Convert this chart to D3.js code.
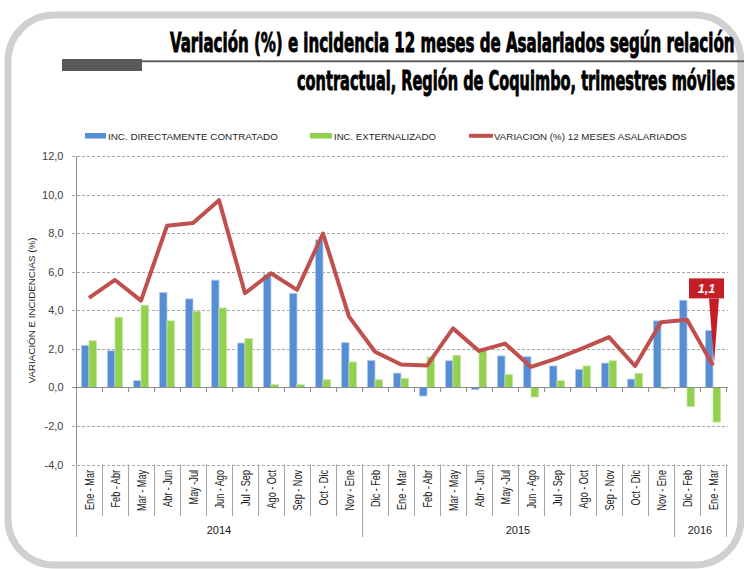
<!DOCTYPE html>
<html><head><meta charset="utf-8">
<script src="https://cdn.jsdelivr.net/npm/d3@7"></script>
<style>body{margin:0;background:#fff} svg{display:block}</style>
</head><body>
<svg id="c" width="744" height="569"></svg>
<script>
const categories = ["Ene - Mar","Feb - Abr","Mar - May","Abr - Jun","May -Jul","Jun - Ago","Jul - Sep","Ago - Oct","Sep - Nov","Oct - Dic","Nov - Ene","Dic - Feb","Ene - Mar","Feb - Abr","Mar - May","Abr - Jun","May -Jul","Jun - Ago","Jul - Sep","Ago - Oct","Sep - Nov","Oct - Dic","Nov - Ene","Dic - Feb","Ene - Mar"];
const yearLabels = ["2014","2015","2016"];
const yearCounts = [11,12,2];
const directos = [2.18,1.90,0.35,4.92,4.59,5.56,2.30,5.87,4.88,7.65,2.32,1.40,0.74,-0.45,1.38,-0.12,1.63,1.59,1.11,0.94,1.26,0.43,3.45,4.52,2.96];
const externos = [2.42,3.64,4.26,3.45,3.95,4.12,2.53,0.14,0.14,0.40,1.32,0.40,0.47,1.58,1.66,1.98,0.66,-0.50,0.35,1.11,1.38,0.73,-0.07,-0.99,-1.80];
const variacion = [4.64,5.57,4.50,8.38,8.52,9.71,4.88,5.92,5.06,7.98,3.67,1.85,1.19,1.13,3.06,1.89,2.27,1.06,1.50,2.04,2.61,1.11,3.38,3.51,1.14];
const yTicks = [-4,-2,0,2,4,6,8,10,12];
const seriesNames = ["INC. DIRECTAMENTE CONTRATADO","INC. EXTERNALIZADO","VARIACION (%) 12 MESES ASALARIADOS"];
const titleLines = ["Variación (%) e incidencia 12 meses de Asalariados según relación","contractual, Región de Coquimbo, trimestres móviles"];
const yTitle = "VARIACIÓN E INCIDENCIAS (%)";
const calloutText = "1,1";

const svg = d3.select("#c");
const L = 76, R = 726, T = 156, B = 464.5;
const blue = "#558ED5", green = "#92D050", red = "#C0504D";
const locale = d3.formatLocale({decimal: ",", thousands: ".", grouping: [3], currency: ["$",""], minus: "-"});
const fmt = locale.format(".1f");

// frame
svg.append("rect").attr("x",8).attr("y",15).attr("width",733).attr("height",550)
  .attr("rx",46).attr("fill","none").attr("stroke","#d0d0d0").attr("stroke-width",7);

// fit text horizontally by scaling
function fitText(sel, x0, y0, width) {
  const w = sel.node().getComputedTextLength();
  sel.attr("x",0).attr("y",0).attr("transform",`translate(${x0},${y0}) scale(${width/w},1)`);
}

// title
const tf = "'DejaVu Sans Condensed','DejaVu Sans',sans-serif";
const t1 = svg.append("text").attr("font-family",tf).attr("font-weight","bold").attr("font-size",27).attr("fill","#000")
  .attr("stroke","#000").attr("stroke-width",0.9).text(titleLines[0]);
fitText(t1,170,52,565);
const t2 = svg.append("text").attr("font-family",tf).attr("font-weight","bold").attr("font-size",27).attr("fill","#000")
  .attr("stroke","#000").attr("stroke-width",0.9).text(titleLines[1]);
fitText(t2,297,90,438);
svg.append("rect").attr("x",62).attr("y",59).attr("width",80).attr("height",12).attr("fill","#595959");
svg.append("line").attr("x1",142).attr("x2",744).attr("y1",61.2).attr("y2",61.2).attr("stroke","#5f5f5f").attr("stroke-width",2);

// legend
const lf = "'Liberation Sans',Arial,sans-serif";
svg.append("rect").attr("x",85).attr("y",133).attr("width",21).attr("height",5.5).attr("fill",blue);
fitText(svg.append("text").attr("font-family",lf).attr("font-size",9).attr("fill","#262626").text(seriesNames[0]),108,139.5,170);
svg.append("rect").attr("x",310).attr("y",133).attr("width",22).attr("height",5.5).attr("fill",green);
fitText(svg.append("text").attr("font-family",lf).attr("font-size",9).attr("fill","#262626").text(seriesNames[1]),334,139.5,102);
svg.append("line").attr("x1",469).attr("x2",493).attr("y1",135.8).attr("y2",135.8).attr("stroke",red).attr("stroke-width",4);
fitText(svg.append("text").attr("font-family",lf).attr("font-size",9).attr("fill","#262626").text(seriesNames[2]),494,139.5,193);

// scales
const x = d3.scaleBand().domain(d3.range(categories.length)).range([L,R]).paddingInner(0.42).paddingOuter(0.21);
const xs = d3.scaleBand().domain([0,1]).range([0,x.bandwidth()]);
const y = d3.scaleLinear().domain([-4,12]).range([B,T]);
const cx = i => x(i) + x.bandwidth()/2;

// grid
svg.append("g").selectAll("line").data(yTicks.filter(d => d !== 0)).join("line")
  .attr("x1",L-4).attr("x2",R+2).attr("y1",d=>Math.round(y(d))+0.5).attr("y2",d=>Math.round(y(d))+0.5)
  .attr("stroke","#a6a6a6").attr("stroke-width",1).attr("stroke-dasharray","3,2");

// y axis
const yAxis = d3.axisLeft(y).tickValues(yTicks).tickFormat(fmt).tickSize(0).tickPadding(13);
const ya = svg.append("g").attr("transform",`translate(${L+0.5},0)`).call(yAxis);
ya.select(".domain").remove();
ya.selectAll("text").attr("font-family",lf).attr("font-size",11).attr("fill","#404040");
svg.append("line").attr("x1",L+0.5).attr("x2",L+0.5).attr("y1",T).attr("y2",537).attr("stroke","#8c8c8c");
svg.selectAll("line.ytick").data([0]).join("line").attr("class","ytick")
  .attr("x1",L-4).attr("x2",L).attr("y1",d=>Math.round(y(d))+0.5).attr("y2",d=>Math.round(y(d))+0.5).attr("stroke","#8c8c8c");

// y title
const yt = svg.append("text").attr("font-family",lf).attr("font-size",9.5).attr("fill","#262626").attr("text-anchor","start").text(yTitle);
{
  const w = yt.node().getComputedTextLength();
  yt.attr("transform",`translate(35,${(T+B)/2 + 73}) rotate(-90) scale(${146/w},1)`);
}

// bars
const bars = svg.append("g");
bars.selectAll("rect.b").data(directos).join("rect").attr("class","b")
  .attr("x",(d,i)=>x(i)+xs(0)).attr("width",xs.bandwidth())
  .attr("y",d=>y(Math.max(0,d))).attr("height",d=>Math.abs(y(d)-y(0)))
  .attr("fill",blue).attr("stroke","#b4cbeb").attr("stroke-width",0.8);
bars.selectAll("rect.g").data(externos).join("rect").attr("class","g")
  .attr("x",(d,i)=>x(i)+xs(1)).attr("width",xs.bandwidth())
  .attr("y",d=>y(Math.max(0,d))).attr("height",d=>Math.abs(y(d)-y(0)))
  .attr("fill",green).attr("stroke","#c6e69e").attr("stroke-width",0.8);

// zero axis with ticks
svg.append("line").attr("x1",L).attr("x2",R+2).attr("y1",Math.round(y(0))+0.5).attr("y2",Math.round(y(0))+0.5).attr("stroke","#8c8c8c");
const bounds = d3.range(categories.length+1).map(i => L + i*x.step());
svg.selectAll("line.zt").data(bounds).join("line").attr("class","zt")
  .attr("x1",d=>Math.round(d)+0.5).attr("x2",d=>Math.round(d)+0.5)
  .attr("y1",Math.round(y(0))).attr("y2",Math.round(y(0))+5).attr("stroke","#8c8c8c");

// line
const line = d3.line().x((d,i)=>cx(i)).y(d=>y(d));
svg.append("path").datum(variacion).attr("d",line).attr("fill","none")
  .attr("stroke",red).attr("stroke-width",4).attr("stroke-linejoin","round");

// category labels and dividers
svg.selectAll("line.cd").data(bounds).join("line").attr("class","cd")
  .attr("x1",d=>Math.round(d)+0.5).attr("x2",d=>Math.round(d)+0.5)
  .attr("y1",B).attr("y2",516).attr("stroke","#a6a6a6");
svg.selectAll("text.cat").data(categories).join("text").attr("class","cat")
  .attr("transform",(d,i)=>`translate(${cx(i)+4.5},470) rotate(-90) scale(0.76,1)`)
  .attr("text-anchor","end").attr("font-family",lf).attr("font-size",12).attr("fill","#1a1a1a").text(d=>d);

// year groups
let acc = 0;
const yearStarts = yearCounts.map(c => { const s = acc; acc += c; return s; });
svg.selectAll("line.yd").data(yearStarts.concat([categories.length])).join("line").attr("class","yd")
  .attr("x1",d=>Math.round(L + d*x.step())+0.5).attr("x2",d=>Math.round(L + d*x.step())+0.5)
  .attr("y1",B).attr("y2",537).attr("stroke","#a6a6a6");
svg.selectAll("text.yr").data(yearLabels).join("text").attr("class","yr")
  .attr("x",(d,i)=>L + (yearStarts[i] + yearCounts[i]/2)*x.step()).attr("y",534)
  .attr("text-anchor","middle").attr("font-family",lf).attr("font-size",11).attr("fill","#1a1a1a").text(d=>d);

// callout
const li = variacion.length-1;
const px = cx(li), py = y(variacion[li]);
const bx = px - 24, by = py - 87;
svg.append("path").attr("d",`M${px-4},${by+20} L${px+6},${by+20} L${px+1},${py-2} Z`).attr("fill","#c41e26");
svg.append("rect").attr("x",bx).attr("y",by).attr("width",35).attr("height",20).attr("fill","#c41e26");
svg.append("text").attr("x",bx+17.5).attr("y",by+14.5).attr("text-anchor","middle")
  .attr("font-family",lf).attr("font-weight","bold").attr("font-style","italic").attr("font-size",12.5)
  .attr("fill","#fff").text(calloutText);
</script>
</body></html>
